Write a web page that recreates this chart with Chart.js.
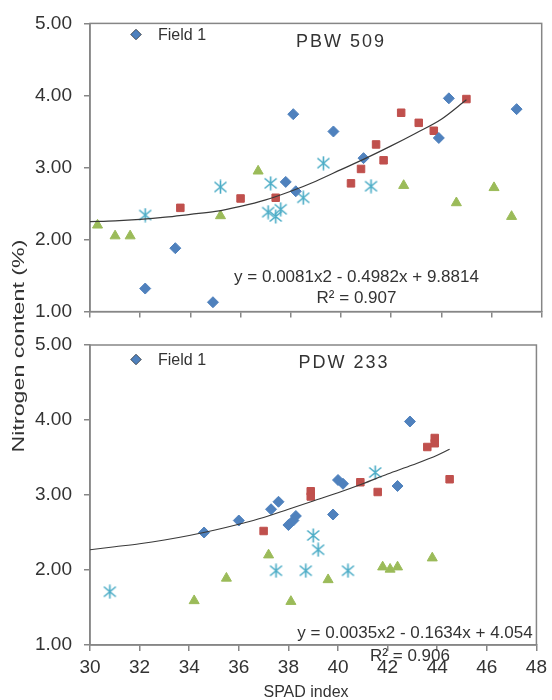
<!DOCTYPE html>
<html>
<head>
<meta charset="utf-8">
<script src="https://cdn.jsdelivr.net/npm/chart.js@4.4.1/dist/chart.umd.min.js"></script>
<style>
  html, body { margin: 0; padding: 0; background: #fff; }
  #wrap { position: relative; width: 552px; height: 700px; }
  #wrap canvas { position: absolute; left: 0; top: 0; }
</style>
</head>
<body>
<div id="wrap">
  <canvas id="bottomChart" width="552" height="700"></canvas>
  <canvas id="topChart" width="552" height="335"></canvas>
</div>
<script>
// ---- axes ----
var xTickValues = [30, 32, 34, 36, 38, 40, 42, 44, 46, 48];
var yTickValues = [1, 2, 3, 4, 5];
var xTitle = "SPAD index";
var yTitle = "Nitrogen content (%)";

// ---- PBW 509 (top) ----
var pbwField1 = [[32.2,1.32],[33.4,1.88],[34.9,1.13],[37.8,2.80],[38.2,2.67],[38.1,3.74],[39.7,3.50],[40.9,3.13],[43.9,3.41],[44.3,3.96],[47.0,3.81]];
var pbwField2 = [[33.6,2.44],[36.0,2.57],[37.4,2.58],[40.4,2.78],[40.8,2.98],[41.4,3.32],[41.7,3.10],[42.4,3.76],[43.1,3.62],[43.7,3.51],[45.0,3.95]];
var pbwField3 = [[30.3,2.20],[31.0,2.05],[31.6,2.05],[35.2,2.33],[36.7,2.95],[42.5,2.75],[44.6,2.51],[46.1,2.72],[46.8,2.32]];
var pbwField4 = [[32.2,2.34],[35.2,2.73],[37.2,2.78],[37.1,2.38],[37.4,2.32],[37.6,2.42],[38.5,2.58],[39.3,3.06],[41.2,2.74]];
var pbwTrendX = [30,31,32,33,34,35,36,37,38,39,40,41,42,43,44,45];
var pbwTrendY = [2.25,2.26,2.28,2.31,2.35,2.39,2.46,2.55,2.67,2.81,2.97,3.13,3.30,3.48,3.67,3.94];
var pbwEquation = "y = 0.0081x2 - 0.4982x + 9.8814";
var pbwR2 = "R\u00B2 = 0.907";

// ---- PDW 233 (bottom) ----
var pdwField1 = [[34.6,2.50],[36.0,2.66],[37.3,2.81],[37.6,2.91],[38.0,2.60],[38.2,2.66],[38.3,2.72],[39.8,2.74],[40.0,3.20],[40.2,3.15],[42.4,3.12],[42.9,3.98]];
var pdwField2 = [[37.0,2.52],[38.9,3.05],[38.9,2.98],[40.9,3.17],[41.6,3.04],[43.6,3.64],[43.9,3.76],[43.9,3.69],[44.5,3.21]];
var pdwField3 = [[34.2,1.59],[35.5,1.89],[37.2,2.20],[38.1,1.58],[39.6,1.87],[41.8,2.04],[42.1,2.01],[42.4,2.04],[43.8,2.16]];
var pdwField4 = [[30.8,1.71],[37.5,1.99],[38.7,1.99],[39.0,2.46],[39.2,2.27],[40.4,1.99],[41.5,3.30]];
var pdwTrendX = [30,31,32,33,34,35,36,37,38,39,40,41,42,43,44,44.5];
var pdwTrendY = [2.27,2.31,2.35,2.40,2.46,2.53,2.61,2.70,2.81,2.92,3.03,3.15,3.28,3.40,3.53,3.61];
var pdwEquation = "y = 0.0035x2 - 0.1634x + 4.054";
var pdwR2 = "R\u00B2 = 0.906";

var seriesNames = ["Field 1", "Field 2", "Field 3", "Field 4"];
var FONT = "'Liberation Sans', Arial, sans-serif";
var TEXT = "#333333";
var FRAME = "#868686";

// excel style asterisk marker
function makeAsterisk() {
  var c = document.createElement("canvas");
  c.width = 15; c.height = 15;
  var g = c.getContext("2d");
  g.strokeStyle = "#4bacc6";
  g.lineWidth = 1.6;
  g.beginPath();
  g.moveTo(7.5, 0.5); g.lineTo(7.5, 14.5);
  g.moveTo(1.5, 2.5); g.lineTo(13.5, 12.5);
  g.moveTo(13.5, 2.5); g.lineTo(1.5, 12.5);
  g.stroke();
  return c;
}
var asterisk = makeAsterisk();

function toPts(arr) {
  return arr.map(function (p) { return { x: p[0], y: p[1] }; });
}
function trendPts(xs, ys) {
  return xs.map(function (x, i) { return { x: x, y: ys[i] }; });
}

function buildDatasets(f1, f2, f3, f4, tx, ty) {
  return [
    { label: "trend", data: trendPts(tx, ty), showLine: true, pointRadius: 0,
      borderColor: "#3a3a3a", borderWidth: 1.2, cubicInterpolationMode: "monotone", fill: false },
    { label: seriesNames[0], data: toPts(f1), pointStyle: "rectRot", pointRadius: 5.5,
      backgroundColor: "#4f81bd", borderColor: "#4f81bd", borderWidth: 1 },
    { label: seriesNames[1], data: toPts(f2), pointStyle: "rect", pointRadius: 5.3,
      backgroundColor: "#c0504d", borderColor: "#c0504d", borderWidth: 1 },
    { label: seriesNames[2], data: toPts(f3), pointStyle: "triangle", pointRadius: 5.8,
      backgroundColor: "#9bbb59", borderColor: "#9bbb59", borderWidth: 1 },
    { label: seriesNames[3], data: toPts(f4), pointStyle: asterisk, pointRadius: 7 }
  ];
}

function panelPlugin(opt) {
  return {
    id: "panel",
    beforeDatasetsDraw: function (chart) {
      var a = chart.chartArea, ctx = chart.ctx;
      ctx.save();
      ctx.strokeStyle = FRAME;
      ctx.lineWidth = 1.5;
      ctx.strokeRect(a.left, a.top, a.right - a.left, a.bottom - a.top);
      ctx.restore();
    },
    afterDraw: function (chart) {
      var ctx = chart.ctx;
      ctx.save();
      ctx.fillStyle = TEXT;
      ctx.textBaseline = "middle";
      // legend
      Chart.helpers.drawPoint(ctx, { pointStyle: "rectRot", radius: 5, borderWidth: 1 }, 136, opt.legendY);
      ctx.fillStyle = "#4f81bd"; ctx.strokeStyle = "#4f81bd";
      ctx.beginPath();
      ctx.moveTo(136, opt.legendY - 5); ctx.lineTo(141, opt.legendY);
      ctx.lineTo(136, opt.legendY + 5); ctx.lineTo(131, opt.legendY);
      ctx.closePath(); ctx.fill();
      ctx.fillStyle = TEXT;
      ctx.font = "16px " + FONT;
      ctx.textAlign = "left";
      ctx.fillText(seriesNames[0], 158, opt.legendY + 1);
      // panel name
      ctx.font = "18px " + FONT;
      ctx.letterSpacing = "2px";
      ctx.textAlign = "center";
      ctx.fillText(opt.name, opt.nameX, opt.nameY);
      ctx.letterSpacing = "0px";
      // trendline equation
      ctx.font = "17px " + FONT;
      ctx.fillText(opt.eq, opt.eqX, opt.eqY);
      ctx.fillText(opt.r2, opt.r2X, opt.r2Y);
      if (opt.axisTitles) {
        ctx.font = "16px " + FONT;
        ctx.fillText(xTitle, 306, 693);
        ctx.translate(20, 346);
        ctx.rotate(-Math.PI / 2);
        ctx.scale(1.45, 1);
        ctx.fillText(yTitle, 0, 0);
      }
      ctx.restore();
    }
  };
}

function makeScales(showX) {
  return {
    x: {
      type: "linear", min: 30, max: 48,
      afterBuildTicks: function (s) { s.ticks = xTickValues.map(function (v) { return { value: v }; }); },
      afterFit: function (s) { s.height = showX ? 55 : 15; },
      ticks: { display: showX, font: { family: FONT, size: 19 }, color: TEXT, padding: 5, maxRotation: 0 },
      grid: { drawOnChartArea: false, drawTicks: true, tickLength: 6, color: FRAME, lineWidth: 1.5 },
      border: { color: FRAME, width: 1.5 }
    },
    y: {
      type: "linear", min: 1, max: 5,
      afterBuildTicks: function (s) { s.ticks = yTickValues.map(function (v) { return { value: v }; }); },
      afterFit: function (s) { s.width = 90; },
      ticks: { font: { family: FONT, size: 19 }, color: TEXT, padding: 12,
        callback: function (v) { return v.toFixed(2); } },
      grid: { drawOnChartArea: false, drawTicks: true, tickLength: 6, color: FRAME, lineWidth: 1.5 },
      border: { color: FRAME, width: 1.5 }
    }
  };
}

new Chart(document.getElementById("topChart"), {
  type: "scatter",
  data: { datasets: buildDatasets(pbwField1, pbwField2, pbwField3, pbwField4, pbwTrendX, pbwTrendY) },
  options: {
    responsive: false, animation: false,
    layout: { padding: { top: 19.5, right: 10.3, bottom: 0, left: 0 } },
    plugins: { legend: { display: false }, tooltip: { enabled: false } },
    scales: makeScales(false)
  },
  plugins: [panelPlugin({ legendY: 34.5, name: "PBW 509", nameX: 341, nameY: 42,
    eq: pbwEquation, eqX: 356.5, eqY: 277, r2: pbwR2, r2X: 356.5, r2Y: 298, axisTitles: false })]
});

new Chart(document.getElementById("bottomChart"), {
  type: "scatter",
  data: { datasets: buildDatasets(pdwField1, pdwField2, pdwField3, pdwField4, pdwTrendX, pdwTrendY) },
  options: {
    responsive: false, animation: false,
    layout: { padding: { top: 345, right: 10.3, bottom: 0, left: 0 } },
    plugins: { legend: { display: false }, tooltip: { enabled: false } },
    scales: makeScales(true)
  },
  plugins: [panelPlugin({ legendY: 359.5, name: "PDW 233", nameX: 344, nameY: 363,
    eq: pdwEquation, eqX: 415, eqY: 633, r2: pdwR2, r2X: 410, r2Y: 656, axisTitles: true })]
});
</script>
</body>
</html>
